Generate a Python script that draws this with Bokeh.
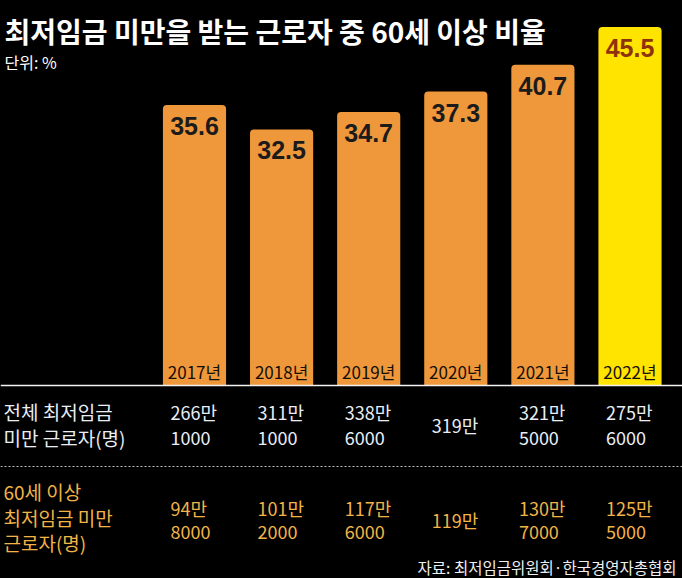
from bokeh.plotting import figure
from bokeh.models import Range1d, Span, ColumnDataSource, GlobalInlineStyleSheet
from bokeh.core.properties import value
from bokeh.embed import file_html
from bokeh.resources import INLINE

# ---------------- data ----------------
years = [2017, 2018, 2019, 2020, 2021, 2022]
year_labels = ["2017년", "2018년", "2019년", "2020년", "2021년", "2022년"]
share_60plus = [35.6, 32.5, 34.7, 37.3, 40.7, 45.5]
total_under_min = ["266만 1000", "311만 1000", "338만 6000", "319만", "321만 5000", "275만 6000"]
over60_under_min = ["94만 8000", "101만 2000", "117만 6000", "119만", "130만 7000", "125만 5000"]

title_text = "최저임금 미만을 받는 근로자 중 60세 이상 비율"
unit_text = "단위: %"
row1_label = ["전체 최저임금", "미만 근로자(명)"]
row2_label = ["60세 이상", "최저임금 미만", "근로자(명)"]
source_text = "자료: 최저임금위원회·한국경영자총협회"

# ---------------- layout ----------------
W, H = 682, 578
PX_PER_UNIT = 7.88          # vertical pixels per percentage point
BASE_PX = 385               # screen y of the zero line
STEP_PX = 87.1              # horizontal pixels per year
FIRST_PX = 194              # screen x of first bar centre

y0 = -(H - BASE_PX) / PX_PER_UNIT
y1 = BASE_PX / PX_PER_UNIT
x0 = years[0] - FIRST_PX / STEP_PX
x1 = x0 + W / STEP_PX


def sx(px):
    return x0 + px / STEP_PX


def sy(py):
    return (BASE_PX - py) / PX_PER_UNIT


KR = value("Noto Sans CJK KR")
ORANGE = "#EF983B"
YELLOW = "#FFE400"
bar_colors = [ORANGE] * (len(years) - 1) + [YELLOW]
val_colors = ["#1b1b1b"] * (len(years) - 1) + ["#8E320C"]

p = figure(width=W, height=H, x_range=Range1d(x0, x1), y_range=Range1d(y0, y1),
           x_axis_type=None, y_axis_type=None, toolbar_location=None,
           output_backend="svg", min_border=0,
           background_fill_color="#000000", border_fill_color="#000000",
           outline_line_color=None)
p.grid.visible = False
p.stylesheets = [GlobalInlineStyleSheet(css="html, body {background:#000000; margin:0; padding:0; overflow:hidden;}")]

src = ColumnDataSource(dict(x=years, top=share_60plus, color=bar_colors,
                            vcol=val_colors,
                            lab=[f"{v:.1f}" for v in share_60plus],
                            yl=year_labels))

p.vbar(x="x", top="top", bottom=0, width=0.725, fill_color="color",
       line_color=None, source=src, border_radius=(4, 4, 0, 0))

# value labels inside bar tops
p.text(x="x", y="top", text="lab", source=src, text_color="vcol",
       text_font=value("Liberation Sans"), text_font_style="bold",
       text_font_size="25px", text_align="center", text_baseline="middle",
       y_offset=21)

# year labels at bar bottoms
p.text(x="x", y=0, text="yl", source=src, text_color="#150e06",
       text_font=KR, text_font_size="17px", text_align="center",
       text_baseline="middle", y_offset=-14)

# baseline and dotted separator
p.add_layout(Span(location=0, dimension="width", line_color="#f2f2f2", line_width=1.5))
p.add_layout(Span(location=sy(466), dimension="width", line_color="#bfbfbf",
                  line_width=1, line_dash="2 2"))

# title
p.text(x=[sx(4)], y=[sy(30)], text=[title_text], text_color="#ffffff",
       text_font=KR, text_font_style="bold", text_font_size="28px",
       text_baseline="middle", text_align="left")
p.text(x=[sx(4)], y=[sy(61)], text=[unit_text], text_color="#ffffff",
       text_font=KR, text_font_size="16px",
       text_baseline="middle", text_align="left")


def table_row(labels, label_ys, values, line_ys, color):
    p.text(x=[sx(3)] * len(labels), y=[sy(v) for v in label_ys], text=labels,
           text_color=color, text_font=KR, text_font_size="19px",
           text_baseline="middle", text_align="left")
    xs, ys, ts = [], [], []
    for yr, v in zip(years, values):
        parts = v.split(" ")
        if len(parts) == 2:
            xs += [yr, yr]
            ys += [sy(line_ys[0]), sy(line_ys[1])]
            ts += parts
        else:
            xs.append(yr)
            ys.append(sy((line_ys[0] + line_ys[1]) / 2))
            ts.append(parts[0])
    p.text(x=xs, y=ys, text=ts, text_color=color, text_font=KR,
           text_font_size="18px", text_baseline="middle", text_align="left",
           x_offset=-24)


table_row(row1_label, [411, 437], total_under_min, [411, 437], "#E9EEF6")
table_row(row2_label, [491, 517, 542], over60_under_min, [507, 531], "#F2B347")

p.text(x=[sx(676)], y=[sy(566)], text=[source_text], text_color="#f0f0f0",
       text_font=KR, text_font_size="15.5px", text_baseline="middle",
       text_align="right")

open("out.html", "w").write(file_html(p, INLINE))
